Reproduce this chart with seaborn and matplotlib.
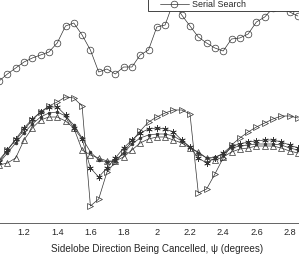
import pandas as pd
import matplotlib
matplotlib.use("Agg")
import matplotlib.pyplot as plt
from matplotlib.patches import Rectangle
from matplotlib.lines import Line2D
import seaborn as sns

# sidelobe direction (degrees)
psi = [1.05, 1.10, 1.15, 1.20, 1.25, 1.30, 1.35, 1.40, 1.45, 1.50,
       1.55, 1.60, 1.65, 1.70, 1.75, 1.80, 1.85, 1.90, 1.95, 2.00,
       2.05, 2.10, 2.15, 2.20, 2.25, 2.30, 2.35, 2.40, 2.45, 2.50,
       2.55, 2.60, 2.65, 2.70, 2.75, 2.80, 2.85]

serial = [28.4, 29.8, 31.0, 32.2, 33.0, 33.6, 34.2, 36.0, 39.4, 40.0,
          37.6, 34.6, 30.2, 30.8, 29.8, 31.2, 31.2, 33.6, 34.6, 39.2,
          39.6, 44.2, 41.6, 39.4, 37.2, 36.0, 35.0, 34.4, 36.8, 37.0,
          37.8, 40.2, 41.2, 43.0, 43.4, 42.2, 41.4]

tri_right = [12.6, 14.6, 16.6, 18.6, 20.6, 22.2, 23.4, 24.2, 25.2, 25.0,
             23.4, 3.4, 4.8, 10.2, 12.2, 14.2, 16.4, 18.4, 20.2, 21.2,
             22.0, 22.6, 22.6, 21.8, 6.0, 6.8, 9.8, 13.0, 15.6, 17.0,
             18.2, 19.2, 20.0, 20.8, 21.4, 21.4, 21.0]

star = [12.2, 14.6, 16.8, 19.0, 20.8, 22.2, 23.2, 23.2, 21.6, 19.0,
        16.8, 11.0, 9.2, 11.0, 13.0, 15.0, 16.6, 18.0, 18.8, 19.0,
        18.8, 18.2, 16.6, 15.2, 13.0, 12.0, 13.0, 14.0, 15.4, 15.8,
        16.2, 16.4, 16.6, 16.6, 16.2, 15.6, 15.0]

dot = [12.0, 14.0, 16.0, 18.0, 19.8, 21.2, 22.0, 22.2, 21.4, 19.6,
       17.0, 14.2, 12.6, 12.2, 12.4, 14.0, 15.8, 17.0, 17.6, 17.8,
       17.8, 17.4, 16.4, 15.2, 14.0, 13.0, 13.2, 13.8, 15.0, 15.4,
       15.6, 15.8, 15.8, 15.8, 15.6, 15.0, 14.6]

tri_up = [11.6, 12.0, 13.0, 16.6, 19.0, 20.6, 21.2, 21.2, 20.4, 19.0,
          14.6, 13.6, 13.0, 12.4, 12.4, 13.2, 14.6, 16.0, 16.8, 17.2,
          17.2, 16.6, 16.0, 15.0, 14.2, 13.0, 12.6, 13.2, 14.2, 14.8,
          15.0, 15.4, 15.4, 15.4, 15.0, 14.4, 14.0]

series = {"Serial Search": serial, "A": tri_right, "B": star,
          "C": dot, "D": tri_up}
markers = {"Serial Search": ("o", 4.8), "A": (">", 5.0), "B": ((6, 2, 0), 4.6),
           "C": (".", 4.0), "D": ("^", 5.0)}

rows = []
for name, vals in series.items():
    for x, y in zip(psi, vals):
        rows.append([name, x, y])
df = pd.DataFrame(rows, columns=["method", "psi", "level"])

sns.set_theme(style="white")
plt.rcParams["font.family"] = ["Liberation Sans", "DejaVu Sans"]

ink = "#333333"
fig = plt.figure(figsize=(2.99, 2.58), dpi=100)
ax = fig.add_axes([-9.2 / 299, 35 / 258, 332 / 299, 250 / 258])

for name in series:
    m, ms = markers[name]
    sub = df[df["method"] == name]
    fill = ink if m == "." else "none"
    sns.lineplot(data=sub, x="psi", y="level", ax=ax, estimator=None,
                 color=ink, linewidth=0.5, marker=m, markersize=ms,
                 markerfacecolor=fill, markeredgecolor=ink,
                 markeredgewidth=0.5, legend=False)

ax.set_xlim(1.0, 3.0)
ax.set_ylim(0, 50)
ax.set_xticks([1.2, 1.4, 1.6, 1.8, 2.0, 2.2, 2.4, 2.6, 2.8])
ax.set_xticklabels(["1.2", "1.4", "1.6", "1.8", "2", "2.2", "2.4", "2.6", "2.8"])
ax.set_yticklabels([])
ax.tick_params(axis="x", direction="in", length=2.2, width=0.5,
               color="#262626", labelsize=6.6, labelcolor="#262626", pad=3.8)
ax.tick_params(axis="y", left=False)
for s in ax.spines.values():
    s.set_linewidth(0.5)
    s.set_color("#262626")
ax.set_xlabel("Sidelobe Direction Being Cancelled, ψ (degrees)",
              fontsize=7.1, color="#262626", labelpad=4.8)
ax.set_ylabel("")

# legend box (only its last entry falls inside the view)
box = Rectangle((148 / 299, (258 - 11) / 258), 0.7, 0.1,
                transform=fig.transFigure, facecolor="white",
                edgecolor="#262626", linewidth=0.6, zorder=3)
fig.patches.append(box)
handle = Line2D([], [], color=ink, linewidth=0.5, marker="o",
                markersize=4.8, markerfacecolor="none",
                markeredgecolor=ink, markeredgewidth=0.5)
fig.legend(handles=[handle], labels=["Serial Search"], loc="center left",
           bbox_to_anchor=(160 / 299, (258 - 4.5) / 258),
           bbox_transform=fig.transFigure, frameon=False, fontsize=6.4,
           borderpad=0, borderaxespad=0, handlelength=3.25,
           handletextpad=0.4, labelcolor="#262626")

fig.savefig("out.png", dpi=100)
plt.close("all")
